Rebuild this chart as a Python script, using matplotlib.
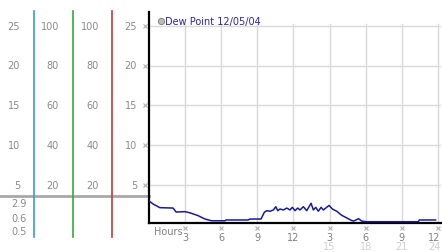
import matplotlib
matplotlib.use("Agg")
import matplotlib.pyplot as plt
import matplotlib.transforms as mtransforms

# dew point trace, hours since start vs value
hours = [0.0, 0.35, 0.9, 2.0, 2.25, 2.99, 3.4, 4.07, 4.65, 5.2, 6.31, 6.4,
         8.22, 8.39, 9.3, 9.58, 9.78, 10.05, 10.33, 10.53, 10.69, 10.88,
         11.16, 11.44, 11.71, 11.9, 12.13, 12.35, 12.54, 12.82, 13.1, 13.29,
         13.46, 13.65, 13.85, 14.06, 14.29, 14.48, 14.68, 14.95, 15.23,
         15.59, 16.0, 16.42, 16.83, 17.0, 17.4, 17.67, 18.08, 22.37, 22.45,
         23.8]
dew_point = [3.0, 2.6, 2.15, 2.1, 1.6, 1.65, 1.5, 1.15, 0.72, 0.5, 0.5, 0.6,
             0.6, 0.72, 0.72, 1.57, 1.77, 1.7, 1.86, 2.27, 1.77, 1.98,
             1.86, 2.1, 1.86, 2.19, 1.77, 2.1, 1.86, 2.27, 1.77, 2.27,
             2.7, 1.86, 2.19, 1.7, 2.19, 1.86, 2.1, 2.43, 1.98,
             1.7, 1.19, 0.86, 0.53, 0.46, 0.76, 0.46, 0.38, 0.38, 0.6,
             0.6]

y_ticks = [5, 10, 15, 20, 25]
x_ticks = [3, 6, 9, 12, 15, 18, 21, 24]
x_labels_top = ["3", "6", "9", "12", "3", "6", "9", "12"]
x_labels_bottom = {15: "15", 18: "18", 21: "21", 24: "24"}

# left scale panel: columns of labels
col_a = ["25", "20", "15", "10", "5"]
col_b = ["100", "80", "60", "40", "20"]
col_c = ["100", "80", "60", "40", "20"]
col_d = ["25", "20", "15", "10", "5"]
current_values = ["2.9", "0.6", "0.5"]

title = "Dew Point 12/05/04"

W, H = 442, 253
fig = plt.figure(figsize=(W / 100, H / 100), dpi=100)

# pixel-space overlay for the left panel
bg = fig.add_axes([0, 0, 1, 1])
bg.set_xlim(0, W)
bg.set_ylim(H, 0)
bg.axis("off")

ax = fig.add_axes([149 / W, (H - 224) / H, 292 / W, 211 / H])
ax.set_xlim(0, 24.25)
ax.set_ylim(0.22, 26.76)
for side in ("top", "right"):
    ax.spines[side].set_visible(False)
ax.spines["left"].set_linewidth(1.6)
ax.spines["bottom"].set_linewidth(1.6)
ax.set_xticks([])
ax.set_yticks([])
ax.patch.set_alpha(0)

grid_c = "#d9d9d9"
for v in y_ticks:
    ax.axhline(v, color=grid_c, linewidth=1, zorder=0)
for h in x_ticks:
    ax.plot([h, h], [0.22, 25.3], color=grid_c, linewidth=1, zorder=0)

ax.plot(hours, dew_point, color="#1a1a99", linewidth=1.1, zorder=3)

# tick glyphs
tick_c = "#b0b0b0"
ax.plot([-0.35] * len(y_ticks), y_ticks, linestyle="none", marker="x",
        markersize=3, mew=0.8, color=tick_c, clip_on=False)
trans_x = mtransforms.blended_transform_factory(ax.transData, ax.transAxes)
ax.plot(x_ticks, [-0.025] * len(x_ticks), linestyle="none", marker="x",
        markersize=3, mew=0.8, color=tick_c, clip_on=False, transform=trans_x)

last = x_ticks[-1]
for h, lab in zip(x_ticks, x_labels_top):
    ha = "right" if h == last else "center"
    xpos = 24.22 if h == last else h
    ax.text(xpos, -0.065, lab, transform=trans_x, ha=ha, va="center",
            fontsize=7, color="#808080")
for h, lab in x_labels_bottom.items():
    ha = "right" if h == last else "center"
    xpos = 24.22 if h == last else h
    ax.text(xpos, -0.11, lab, transform=trans_x, ha=ha, va="center",
            fontsize=7, color="#d0d0d0")
ax.text(0.45, -0.04, "Hours", transform=trans_x, ha="left", va="center",
        fontsize=7, color="#808080")

# legend-like title
ax.plot([1.0], [25.65], marker="o", markersize=4.5, color="#bbbbbb",
        markeredgecolor="#777777", mew=0.6, clip_on=False)
ax.text(1.35, 25.65, title, ha="left", va="center", fontsize=7,
        color="#2626a6")

# left panel
label_y = [27, 66, 106, 146, 186]
for x_right, col in zip([20, 59, 99, 137], [col_a, col_b, col_c, col_d]):
    for y, lab in zip(label_y, col):
        bg.text(x_right, y, lab, ha="right", va="center", fontsize=7,
                color="#8a8a8a")
for y, lab in zip([204, 219, 232], current_values):
    bg.text(27, y, lab, ha="right", va="center", fontsize=7, color="#8a8a8a")

bg.plot([0, 149], [197, 197], color="#a8a8a8", linewidth=2)
for x, c in zip([33.5, 72.5, 111.5], ["#3a9ccc", "#3aa83a", "#c43a3a"]):
    bg.plot([x, x], [12, 238], color=c, linewidth=1.2)

fig.savefig("out.png", dpi=100)
